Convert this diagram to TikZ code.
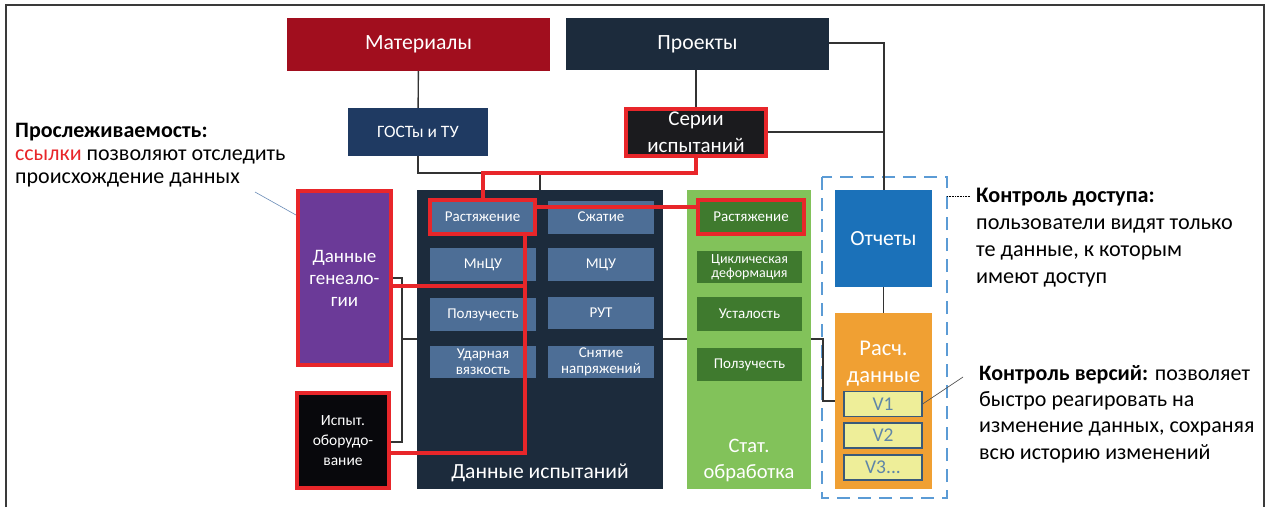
\documentclass[tikz,border=0pt]{standalone}
\usepackage{fontspec}
\setmainfont{Carlito}
\newcommand\fsz[2]{\fontsize{#1}{#2}\selectfont}
\definecolor{matred}{HTML}{A10E1E}
\definecolor{navy}{HTML}{1C2B3C}
\definecolor{gostblue}{HTML}{1F3A62}
\definecolor{seriblack}{HTML}{1B1B1E}
\definecolor{subblue}{HTML}{4D6E96}
\definecolor{genpurple}{HTML}{6B3A98}
\definecolor{equipblack}{HTML}{08080C}
\definecolor{statgreen}{HTML}{82C25A}
\definecolor{darkgreen}{HTML}{3F7A2E}
\definecolor{repblue}{HTML}{1B71B9}
\definecolor{calcorange}{HTML}{F0A033}
\definecolor{veryellow}{HTML}{EEEE99}
\definecolor{verborder}{HTML}{3A5A7A}
\definecolor{vertext}{HTML}{5F86A8}
\definecolor{dashblue}{HTML}{5B9BD5}
\definecolor{linkred}{HTML}{E8262A}
\definecolor{conngray}{HTML}{333333}
\definecolor{framegray}{HTML}{3A3A3A}
\definecolor{notegray}{HTML}{555555}
\definecolor{notesteel}{HTML}{6A8CB8}
\tikzset{
  box/.style={rectangle, inner sep=0pt, text=white, align=center},
  redbox/.style={box, draw=linkred, line width=4pt},
  subbox/.style={box, fill=subblue, minimum width=106pt, minimum height=33pt, font=\fsz{15}{18}},
  greenbox/.style={box, fill=darkgreen, minimum width=105pt, minimum height=33pt, font=\fsz{15}{18}},
  verbox/.style={box, fill=veryellow, draw=verborder, line width=1.2pt, text=vertext,
    minimum width=78pt, minimum height=25pt, font=\fsz{19.5}{21}},
  conn/.style={draw=conngray, line width=1.4pt},
  link/.style={draw=linkred, line width=4pt},
  note/.style={inner sep=0pt, align=left, anchor=north west, text=black},
}
\begin{document}
\begin{tikzpicture}[x=1pt,y=-1pt]
\useasboundingbox (0,0) rectangle (1267,507);
\fill[white] (0,0) rectangle (1267,507);
% open frame round the figure
\draw[framegray, line width=1.8pt] (6,507) -- (6,5) -- (1264,5) -- (1264,507);

% top level
\node[box, fill=matred, minimum width=263pt, minimum height=53pt, font=\fsz{21.7}{24}] (mat) at (418.5,44.5) {Материалы};
\node[box, fill=navy, minimum width=263pt, minimum height=52pt, font=\fsz{21.7}{24}] (proj) at (697.5,44) {Проекты};
\node[box, fill=gostblue, minimum width=140pt, minimum height=48pt, font=\fsz{17.4}{20}] (gost) at (418,132) {ГОСТы и ТУ};

% test data container
\node[box, fill=navy, minimum width=246pt, minimum height=299pt] (tests) at (540,339.5) {};
\node[box, font=\fsz{21.6}{24}] (testslbl) at (540,473) {Данные испытаний};
\node[subbox, fill=subblue, draw=linkred, line width=4pt, minimum width=105pt, minimum height=34pt] (tens) at (482.5,217) {Растяжение};
\node[subbox] (compr) at (601,217) {Сжатие};
\node[subbox] (mncu) at (483,264.5) {МнЦУ};
\node[subbox] (mcu) at (601,264.5) {МЦУ};
\node[subbox] (creep) at (483,314.5) {Ползучесть};
\node[subbox, minimum height=32pt] (rut) at (601,313) {РУТ};
\node[subbox, minimum height=32pt, font=\fsz{15}{17}] (impact) at (483,362) {Ударная\\[-1pt]вязкость};
\node[subbox, minimum height=32pt, font=\fsz{15}{17}] (relief) at (601,362) {Снятие\\[-1pt]напряжений};

% statistics container
\node[box, fill=statgreen, minimum width=124pt, minimum height=299pt] (stat) at (749,339.5) {};
\node[box, font=\fsz{20.5}{26}] (statlbl) at (749,460) {Стат.\\обработка};
\node[greenbox, draw=linkred, line width=4pt, minimum width=106pt, minimum height=34pt] (stens) at (751,217) {Растяжение};
\node[greenbox, minimum height=32pt, font=\fsz{14}{15.5}] (cycl) at (749.5,267) {Циклическая\\[-1pt]деформация};
\node[greenbox, minimum height=34pt] (fatig) at (749.5,314) {Усталость};
\node[greenbox] (screep) at (749.5,364.5) {Ползучесть};

% reports and calculated data
\node[box, fill=repblue, minimum width=97pt, minimum height=97pt, font=\fsz{21.6}{24}] (rep) at (883.5,238.5) {Отчеты};
\node[box, fill=calcorange, minimum width=97pt, minimum height=176pt] (calc) at (883.5,401) {};
\node[box, font=\fsz{22.5}{27}] (calclbl) at (883.5,364) {Расч.\\данные};
\node[verbox] (v1) at (883,404) {V1};
\node[verbox] (v2) at (883,435.5) {V2};
\node[verbox] (v3) at (883,467.5) {V3...};

% access control frame
\draw[dashblue, line width=2.6pt, dash pattern=on 13pt off 8pt] (822,177) rectangle (947,498);
\coordinate (accl) at (947,196);

% black connectors
\draw[conn] (mat) -- (gost);
\draw[conn] (gost.south) -- (418,173) -| (tests.north);
\draw[conn] (proj.south -| 696,0) -- (696,109);
\draw[conn] (696,132) -- (884,132);
\draw[conn] (proj.east |- 0,43) -| (rep.north -| 884,0);
\draw[conn] (rep) -- (calc);
\draw[conn] (393,278) -- (402,278) -- (402,442) -- (389,442);
\draw[conn] (402,339) -- (tests.west |- 0,339);
\draw[conn] (tests.east |- 0,339) -- (stat.west |- 0,339);
\draw[conn] (stat.east |- 0,339) -- (823,339) -- (823,401) -- (calc.west |- 0,401);

% genealogy and equipment
\node[redbox, fill=genpurple, minimum width=93pt, minimum height=174pt, font=\fsz{19}{22}] (gen) at (344.5,278) {Данные\\генеало-\\гии};
\node[redbox, fill=equipblack, minimum width=92pt, minimum height=95pt, font=\fsz{15.5}{20}] (equip) at (343,440.5) {Испыт.\\оборудо-\\вание};
\node[redbox, fill=seriblack, minimum width=140pt, minimum height=47pt, font=\fsz{21}{27}] (seri) at (696,132.5) {Серии\\испытаний};

% red traceability links
\draw[link] (seri.south) -- (696,173) -| (tens.north);
\draw[link] (tens.east |- 0,207) -- (stens.west |- 0,207);
\draw[link] (525,236) -- (525,453) -- (equip.east |- 0,453);
\draw[link] (gen.east |- 0,286) -- (525,286);

% annotations
\node[note, font=\fsz{22}{23}] (trace) at (15,123) {\textbf{Прослеживаемость:}\\\textcolor{linkred}{ссылки} позволяют отследить\\происхождение данных};
\coordinate (tracetip) at (255,192);
\draw[notesteel, line width=0.6pt] (tracetip) -- (gen.north west |- 0,215);

\node[note, font=\fsz{22.2}{27}] (access) at (976,188) {\textbf{Контроль доступа:}\\пользователи видят только\\те данные, к которым\\имеют доступ};
\draw[black, line width=0.8pt, dash pattern=on 1pt off 0.6pt] (accl) -- (970,196);

\node[note, font=\fsz{22}{26.3}] (vers) at (979,365) {\textbf{Контроль версий:} позволяет\\быстро реагировать на\\изменение данных, сохраняя\\всю историю изменений};
\coordinate (verstip) at (963,377);
\draw[notegray, line width=0.7pt] (v1.east) -- (verstip);
\end{tikzpicture}
\end{document}
